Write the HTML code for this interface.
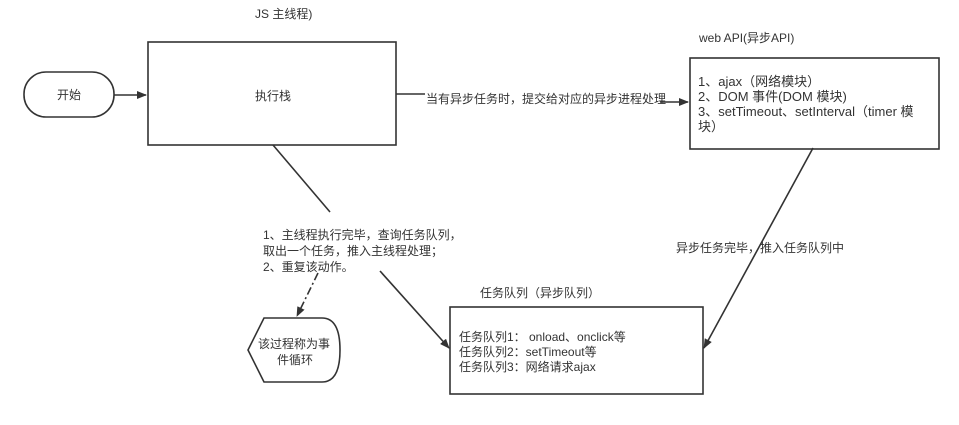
<!DOCTYPE html>
<html><head><meta charset="utf-8"><style>
html,body{margin:0;padding:0;background:#fff;width:959px;height:425px;overflow:hidden}
text{font-family:"Liberation Sans","Noto Sans CJK SC",sans-serif;font-size:12px;fill:#333}
.b{font-size:13px}
</style></head><body>
<svg width="959" height="425" viewBox="0 0 959 425" xmlns="http://www.w3.org/2000/svg">
<defs>
<marker id="a" markerWidth="10" markerHeight="8" refX="9" refY="4" orient="auto" markerUnits="userSpaceOnUse"><path d="M0,0 L10,4 L0,8 Z" fill="#333"/></marker>
</defs>
<g stroke="#333" stroke-width="1.6" fill="none">
<rect x="24" y="72" width="90" height="45" rx="22" ry="22"/>
<rect x="148" y="42" width="248" height="103"/>
<rect x="690" y="58" width="249" height="91"/>
<rect x="450" y="307" width="253" height="87"/>
<path d="M264,318 L322,318 Q340,318 340,350 Q340,382 322,382 L264,382 L248,350 Z"/>
<line x1="114" y1="95" x2="146" y2="95" marker-end="url(#a)"/>
<line x1="396" y1="94" x2="425" y2="94"/>
<line x1="660" y1="102" x2="688" y2="102" marker-end="url(#a)"/>
<line x1="273" y1="145" x2="330" y2="212"/>
<line x1="380" y1="271" x2="449" y2="348" marker-end="url(#a)"/>
<line x1="813" y1="148" x2="704" y2="348" marker-end="url(#a)"/>
<line x1="318" y1="273" x2="297" y2="316" stroke-dasharray="8,3,2,3" marker-end="url(#a)"/>
</g>
<text x="57" y="99">开始</text>
<text x="255" y="18">JS 主线程)</text>
<text x="255" y="100">执行栈</text>
<text x="426" y="103">当有异步任务时，提交给对应的异步进程处理</text>
<text x="699" y="42">web API(异步API)</text>
<text class="b" x="698" y="86">1、ajax（网络模块）</text>
<text class="b" x="698" y="101">2、DOM 事件(DOM 模块)</text>
<text class="b" x="698" y="116">3、setTimeout、setInterval（timer 模</text>
<text class="b" x="698" y="131">块）</text>
<text x="263" y="239">1、主线程执行完毕，查询任务队列，</text>
<text x="263" y="255">取出一个任务，推入主线程处理；</text>
<text x="263" y="271">2、重复该动作。</text>
<text x="676" y="252">异步任务完毕，推入任务队列中</text>
<text x="480" y="297">任务队列（异步队列）</text>
<text x="459" y="341">任务队列1： onload、onclick等</text>
<text x="459" y="356">任务队列2：setTimeout等</text>
<text x="459" y="371">任务队列3：网络请求ajax</text>
<text x="258" y="348">该过程称为事</text>
<text x="277" y="364">件循环</text>
</svg>
</body></html>
